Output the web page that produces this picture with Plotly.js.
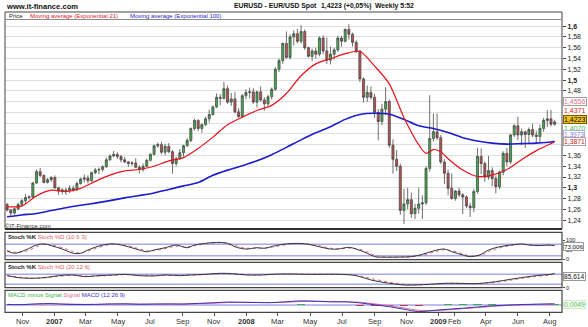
<!DOCTYPE html>
<html><head><meta charset="utf-8">
<script src="https://cdn.plot.ly/plotly-3.0.1.min.js"></script>
<style>html,body{margin:0;padding:0;background:#fff;}#chart{width:588px;height:327px;}</style>
</head><body><div id="chart"></div>
<script>
// ---------- DATA (weekly EUR/USD) ----------
const firstWeek = '2006-10-02';
const opens = [
1.2690,1.2590,1.2530,1.2610,1.2690,1.2760,1.2820,1.2830,1.3090,1.3300,
1.3230,1.3100,1.3150,1.3190,1.3000,1.2940,1.2960,1.2950,1.2990,1.2960,
1.3080,1.3160,1.3180,1.3130,1.3280,1.3330,1.3340,1.3390,1.3520,1.3590,
1.3620,1.3580,1.3520,1.3480,1.3450,1.3460,1.3380,1.3340,1.3400,1.3510,
1.3620,1.3780,1.3800,1.3660,1.3770,1.3670,1.3450,1.3540,1.3650,1.3780,
1.3880,1.4100,1.4250,1.4100,1.4170,1.4280,1.4360,1.4500,1.4680,1.4660,
1.4840,1.4590,1.4650,1.4410,1.4320,1.4710,1.4770,1.4780,1.4590,1.4780,
1.4630,1.4560,1.4690,1.4830,1.5200,1.5360,1.5680,1.5420,1.5800,1.5860,
1.5720,1.5900,1.5600,1.5440,1.5540,1.5480,1.5780,1.5540,1.5370,1.5480,
1.5560,1.5780,1.5720,1.5940,1.5850,1.5700,1.5540,1.5020,1.4680,1.4770,
1.4680,1.4400,1.4230,1.4460,1.4600,1.3790,1.3530,1.3400,1.2580,1.2700,
1.2780,1.2520,1.2620,1.2700,1.2720,1.3360,1.3915,1.4040,1.3930,1.3480,
1.3270,1.2990,1.2800,1.2940,1.2870,1.2830,1.2660,1.2630,1.2930,1.3580,
1.3450,1.3200,1.3320,1.3170,1.3020,1.3290,1.3640,1.3480,1.3980,1.4150,
1.3980,1.4040,1.3990,1.4080,1.3980,1.3950,1.4100,1.4250,1.4280,1.4180];
const highs = [
1.2720,1.2600,1.2630,1.2720,1.2790,1.2880,1.2860,1.3110,1.3340,1.3367,
1.3250,1.3180,1.3220,1.3230,1.3020,1.2990,1.3000,1.3050,1.3040,1.3120,
1.3190,1.3250,1.3230,1.3300,1.3370,1.3380,1.3420,1.3560,1.3620,1.3682,
1.3660,1.3610,1.3570,1.3500,1.3500,1.3550,1.3420,1.3450,1.3540,1.3640,
1.3800,1.3840,1.3852,1.3820,1.3830,1.3700,1.3580,1.3720,1.3800,1.3920,
1.4120,1.4280,1.4270,1.4200,1.4320,1.4450,1.4530,1.4752,1.4740,1.4967,
1.4900,1.4760,1.4780,1.4480,1.4740,1.4830,1.4860,1.4850,1.4800,1.4880,
1.4680,1.4730,1.4860,1.5240,1.5400,1.5700,1.5903,1.5850,1.5920,1.5950,
1.6019,1.5940,1.5620,1.5580,1.5600,1.5810,1.5830,1.5790,1.5620,1.5600,
1.5820,1.5820,1.5960,1.6038,1.5880,1.5740,1.5560,1.5050,1.4900,1.4880,
1.4740,1.4460,1.4560,1.4867,1.4640,1.3900,1.3700,1.3450,1.2980,1.3000,
1.2910,1.2700,1.3000,1.2860,1.3400,1.4719,1.4380,1.4380,1.3980,1.3530,
1.3340,1.3270,1.2960,1.3000,1.2900,1.2860,1.2720,1.2980,1.3738,1.3730,
1.3490,1.3590,1.3380,1.3230,1.3320,1.3680,1.3740,1.4000,1.4180,1.4320,
1.4100,1.4060,1.4120,1.4190,1.4060,1.4170,1.4300,1.4440,1.4445,1.4260];
const lows = [
1.2560,1.2484,1.2500,1.2580,1.2660,1.2700,1.2780,1.2810,1.3070,1.3200,
1.3080,1.3080,1.3110,1.2980,1.2870,1.2880,1.2866,1.2900,1.2930,1.2940,
1.3060,1.3100,1.3080,1.3110,1.3250,1.3250,1.3300,1.3370,1.3500,1.3570,
1.3530,1.3470,1.3460,1.3390,1.3410,1.3370,1.3266,1.3300,1.3380,1.3490,
1.3600,1.3740,1.3620,1.3600,1.3640,1.3260,1.3400,1.3520,1.3580,1.3760,
1.3850,1.4060,1.4050,1.4020,1.4150,1.4210,1.4340,1.4480,1.4530,1.4640,
1.4560,1.4520,1.4380,1.4300,1.4300,1.4640,1.4660,1.4560,1.4490,1.4600,
1.4430,1.4510,1.4640,1.4800,1.5150,1.5300,1.5400,1.5380,1.5640,1.5680,
1.5680,1.5560,1.5420,1.5350,1.5400,1.5440,1.5480,1.5300,1.5290,1.5380,
1.5520,1.5620,1.5700,1.5750,1.5620,1.5500,1.4960,1.4580,1.4590,1.4640,
1.4300,1.3880,1.4160,1.4350,1.3740,1.3260,1.3310,1.2500,1.2330,1.2600,
1.2440,1.2420,1.2520,1.2420,1.2680,1.3300,1.3860,1.3880,1.3440,1.3070,
1.2860,1.2780,1.2760,1.2830,1.2513,1.2620,1.2457,1.2550,1.2890,1.3250,
1.3110,1.3150,1.3030,1.2896,1.2970,1.3230,1.3400,1.3440,1.3940,1.3880,
1.3800,1.3740,1.3820,1.3940,1.3830,1.3850,1.4040,1.4130,1.4140,1.4150];
const closes = [
1.2590,1.2530,1.2610,1.2690,1.2760,1.2820,1.2830,1.3090,1.3300,1.3230,
1.3100,1.3150,1.3190,1.3000,1.2940,1.2960,1.2950,1.2990,1.2960,1.3080,
1.3160,1.3180,1.3130,1.3280,1.3330,1.3340,1.3390,1.3520,1.3590,1.3620,
1.3580,1.3520,1.3480,1.3450,1.3460,1.3380,1.3340,1.3400,1.3510,1.3620,
1.3780,1.3800,1.3660,1.3770,1.3670,1.3450,1.3540,1.3650,1.3780,1.3880,
1.4100,1.4250,1.4100,1.4170,1.4280,1.4360,1.4500,1.4680,1.4660,1.4840,
1.4590,1.4650,1.4410,1.4320,1.4710,1.4770,1.4780,1.4590,1.4780,1.4630,
1.4560,1.4690,1.4830,1.5200,1.5360,1.5680,1.5420,1.5800,1.5860,1.5720,
1.5900,1.5600,1.5440,1.5540,1.5480,1.5780,1.5540,1.5370,1.5480,1.5560,
1.5780,1.5720,1.5940,1.5850,1.5700,1.5540,1.5020,1.4680,1.4770,1.4680,
1.4400,1.4230,1.4460,1.4600,1.3790,1.3530,1.3400,1.2580,1.2700,1.2780,
1.2520,1.2620,1.2700,1.2720,1.3360,1.3915,1.4040,1.3930,1.3480,1.3270,
1.2990,1.2800,1.2940,1.2870,1.2830,1.2660,1.2630,1.2930,1.3580,1.3450,
1.3200,1.3320,1.3170,1.3020,1.3290,1.3640,1.3480,1.3980,1.4150,1.3980,
1.4040,1.3990,1.4080,1.3980,1.3950,1.4100,1.4250,1.4280,1.4180,1.4223];

// Moving averages (week index -> value)
const ema21Idx = [0,4,8,12,16,20,24,28,32,36,40,44,48,52,56,60,64,68,72,76,80,84,88,92,96,100,104,108,112,114,116,118,120,124,128,132,136,140,144,148,149];
const ema21 = [1.2648,1.2660,1.2850,1.2955,1.2930,1.2990,1.3120,1.3235,1.3315,1.3340,1.3400,1.3500,1.3560,1.3730,1.3940,1.4170,1.4310,1.4435,1.4530,1.4750,1.5080,1.5300,1.5395,1.5490,1.5530,1.5260,1.4930,1.4300,1.3800,1.3640,1.3710,1.3670,1.3540,1.3330,1.3210,1.3235,1.3340,1.3520,1.3690,1.3820,1.3850];
const ema100Idx = [0,4,8,12,16,20,24,28,32,36,40,44,48,52,56,60,64,68,72,76,80,84,88,92,96,100,104,108,112,116,120,124,128,132,136,140,144,148,149];
const ema100 = [1.2463,1.2496,1.2524,1.2577,1.2630,1.2675,1.2715,1.2762,1.2813,1.2857,1.2905,1.2970,1.3035,1.3097,1.3232,1.3328,1.3410,1.3500,1.3615,1.3750,1.3890,1.4020,1.4134,1.4270,1.4362,1.4383,1.4365,1.4270,1.4150,1.4100,1.4025,1.3930,1.3870,1.3830,1.3810,1.3820,1.3830,1.3850,1.3865];

// Stochastic (10 6 3)
const stoch1Idx = [0,2,5,8,10,12,15,18,20,22,25,28,30,33,36,38,40,43,46,49,51,54,57,60,62,65,68,70,73,76,79,82,85,88,90,93,95,98,100,103,107,110,113,116,119,121,124,126,129,131,134,137,140,142,145,147,149];
const stoch1K = [45,33,50,76,82,73,55,33,33,50,71,82,80,67,50,41,50,62,76,62,76,85,90,85,67,55,62,59,73,82,85,80,67,55,55,64,55,33,15,12,13,15,27,45,55,41,24,15,27,50,67,76,82,76,73,76,73.006];
const stoch1D = [47,38,43,66,80,77,62,42,34,44,64,79,81,72,56,45,47,57,70,67,72,81,88,87,73,60,60,60,68,78,84,82,72,60,56,60,57,40,22,14,13,14,22,38,51,46,30,19,22,42,61,73,80,78,74,75,74];

// Stochastic (20 12 6)
const stoch2Idx = [0,3,7,11,14,18,21,25,29,32,36,40,43,47,50,54,58,61,65,69,72,76,81,86,90,95,99,104,108,111,115,119,122,126,129,133,137,140,144,148,149];
const stoch2K = [72,60,56,62,72,76,66,72,76,80,72,70,76,72,76,80,86,84,76,76,80,82,80,80,80,72,46,26,16,16,20,26,26,24,26,36,50,60,72,80,85.614];
const stoch2D = [74,64,57,60,68,74,70,70,74,78,75,72,74,73,75,78,84,85,79,76,78,81,81,80,80,75,55,33,20,16,18,23,26,25,25,32,44,56,67,77,82];

// MACD (12 26 9)
const macdIdx = [0,4,8,12,16,20,24,28,32,36,40,44,48,52,56,60,64,68,72,76,80,84,88,92,96,100,104,108,112,116,120,124,128,132,136,140,144,148,149];
const macdLine = [0.004,0.003,0.010,0.012,0.006,0.004,0.005,0.009,0.010,0.006,0.008,0.009,0.008,0.014,0.019,0.025,0.023,0.021,0.020,0.028,0.035,0.032,0.027,0.027,0.018,0.002,-0.014,-0.036,-0.056,-0.046,-0.036,-0.027,-0.017,-0.007,-0.001,0.004,0.007,0.010,0.010];
const macdSignal = [0.005,0.004,0.006,0.009,0.008,0.006,0.005,0.007,0.009,0.008,0.007,0.008,0.008,0.011,0.015,0.021,0.023,0.022,0.021,0.024,0.030,0.032,0.029,0.028,0.023,0.010,-0.006,-0.025,-0.045,-0.048,-0.041,-0.032,-0.022,-0.012,-0.004,0.001,0.005,0.005,0.0051];
const macdHist = [-0.001,-0.001,0.004,0.003,-0.002,-0.002,0.000,0.002,0.001,-0.002,0.001,0.001,0.000,0.003,0.004,0.004,0.000,-0.001,-0.001,0.004,0.005,0.000,-0.002,-0.001,-0.005,-0.008,-0.008,-0.011,-0.011,0.002,0.005,0.005,0.005,0.005,0.003,0.003,0.002,0.005,0.0049];

// Axis labels
const monthTickVals = ['2006-11-01','2007-01-01','2007-03-01','2007-05-01','2007-07-01','2007-09-01','2007-11-01','2008-01-01','2008-03-01','2008-05-01','2008-07-01','2008-09-01','2008-11-01','2009-01-01','2009-02-01','2009-04-01','2009-06-01','2009-08-01'];
const monthTickText = ['Nov','<b>2007</b>','Mar','May','Jul','Sep','Nov','<b>2008</b>','Mar','May','Jul','Sep','Nov','<b>2009</b>','Feb','Apr','Jun','Aug'];
const priceTickVals = [1.24,1.26,1.28,1.30,1.32,1.34,1.36,1.38,1.40,1.42,1.44,1.46,1.48,1.50,1.52,1.54,1.56,1.58,1.60];
const priceTickText = ['1,24','1,26','1,28','<b>1,3</b>','1,32','1,34','1,36','','','','','','1,48','<b>1,5</b>','1,52','1,54','1,56','1,58','<b>1,6</b>'];
const sideLabels = ['1,4556','1,4371','1,4223','1,4070','1,3973','1,3871'];
const panelLabels = ['73,006','85,614','0,0049'];

// ---------- BUILD ----------
const DAY = 86400000;
const t0 = Date.parse(firstWeek + 'T00:00:00Z');
const weeks = opens.map((_, i) => new Date(t0 + i * 7 * DAY).toISOString().slice(0, 10));
const at = idx => idx.map(i => weeks[i]);

const H = 327, FONT = 'Arial, "Liberation Sans", sans-serif';
const fy = p => 1 - p / H;              // pixel row -> paper y
const fx = p => (p - 5) / 557;           // pixel col -> paper x

const traces = [
  {type:'candlestick', x:weeks, open:opens, high:highs, low:lows, close:closes,
   xaxis:'x', yaxis:'y', whiskerwidth:0, hoverinfo:'skip',
   increasing:{line:{color:'#4a4a4a', width:0.8}, fillcolor:'#3fae49'},
   decreasing:{line:{color:'#4a4a4a', width:0.8}, fillcolor:'#c0504d'}},
  {type:'scatter', mode:'lines', x:at(ema100Idx), y:ema100, xaxis:'x', yaxis:'y',
   line:{color:'#1c1ccc', width:1.6, shape:'spline', smoothing:0.8}, hoverinfo:'skip'},
  {type:'scatter', mode:'lines', x:at(ema21Idx), y:ema21, xaxis:'x', yaxis:'y',
   line:{color:'#e8141c', width:1.2, shape:'spline', smoothing:0.8}, hoverinfo:'skip'},
  {type:'scatter', mode:'lines', x:at(stoch1Idx), y:stoch1D, xaxis:'x', yaxis:'y2',
   line:{color:'#e07070', width:1, dash:'dot', shape:'spline'}, hoverinfo:'skip'},
  {type:'scatter', mode:'lines', x:at(stoch1Idx), y:stoch1K, xaxis:'x', yaxis:'y2',
   line:{color:'#333344', width:1, shape:'spline'}, hoverinfo:'skip'},
  {type:'scatter', mode:'lines', x:at(stoch2Idx), y:stoch2D, xaxis:'x', yaxis:'y3',
   line:{color:'#e07070', width:1, dash:'dot', shape:'spline'}, hoverinfo:'skip'},
  {type:'scatter', mode:'lines', x:at(stoch2Idx), y:stoch2K, xaxis:'x', yaxis:'y3',
   line:{color:'#333344', width:1, shape:'spline'}, hoverinfo:'skip'},
  {type:'bar', x:at(macdIdx), y:macdHist, xaxis:'x', yaxis:'y4', width:2.2*7*DAY,
   marker:{color:macdHist.map(v => v >= 0 ? '#3db04a' : '#c03c3c')}, hoverinfo:'skip'},
  {type:'scatter', mode:'lines', x:at(macdIdx), y:macdSignal, xaxis:'x', yaxis:'y4',
   line:{color:'#e0709a', width:1, shape:'spline'}, hoverinfo:'skip'},
  {type:'scatter', mode:'lines', x:at(macdIdx), y:macdLine, xaxis:'x', yaxis:'y4',
   line:{color:'#3a30b8', width:1, shape:'spline'}, hoverinfo:'skip'}
];

const frame = '#454545', level = '#a8a8ee';
const shapes = [
  {type:'line', xref:'paper', yref:'y2', x0:0, x1:1, y0:80, y1:80, line:{color:level, width:1.5}, layer:'below'},
  {type:'line', xref:'paper', yref:'y2', x0:0, x1:1, y0:20, y1:20, line:{color:level, width:1.5}, layer:'below'},
  {type:'line', xref:'paper', yref:'y3', x0:0, x1:1, y0:80, y1:80, line:{color:level, width:1.5}, layer:'below'},
  {type:'line', xref:'paper', yref:'y3', x0:0, x1:1, y0:20, y1:20, line:{color:level, width:1.5}, layer:'below'},
  {type:'line', xref:'paper', yref:'y4', x0:0, x1:1, y0:0, y1:0, line:{color:level, width:1.5}, layer:'below'},
  {type:'rect', xref:'paper', yref:'paper', x0:0, x1:1, y0:fy(229), y1:fy(12), line:{color:frame, width:1}},
  {type:'line', xref:'paper', yref:'paper', x0:0, x1:1, y0:fy(19.5), y1:fy(19.5), line:{color:'#8a8a8a', width:1}},
  {type:'line', xref:'paper', yref:'paper', x0:0, x1:1, y0:fy(229), y1:fy(229), line:{color:'#303030', width:2}},
  {type:'rect', xref:'paper', yref:'paper', x0:0, x1:1, y0:fy(259.7), y1:fy(232.3), line:{color:frame, width:1.2}},
  {type:'rect', xref:'paper', yref:'paper', x0:0, x1:1, y0:fy(287.7), y1:fy(262.3), line:{color:frame, width:1.2}},
  {type:'rect', xref:'paper', yref:'paper', x0:0, x1:1, y0:fy(312.3), y1:fy(290.3), line:{color:frame, width:1.2}}
];

const A = (text, px, py, size, color, extra) => Object.assign({
  text, xref:'paper', yref:'paper', x:fx(px), y:fy(py), xanchor:'left', yanchor:'middle',
  showarrow:false, font:{family:FONT, size, color}}, extra || {});

const sideColors = ['#e0708a','#e02424','#000000','#3cbc3c','#7f7fd0','#d42020'];
const sideBg = ['#ffffff','#ffffff','#f2c318','#ffffff','#ffffff','#ffffff'];
const sideBorder = ['#a0a0a0','#ffffff','#7a5a00','#ffffff','#b0b0d8','#b0a0a0'];
const sideRows = [101, 110.3, 119.6, 128.6, 134.8, 141.4];
const sideSize = [7, 7, 7, 7, 6.5, 6.8];

const annotations = [
  A('<b>www.it-finance.com</b>', 4, 6, 7.6, '#111'),
  A('<b>EURUSD - EUR/USD Spot</b>', 232, 6, 6.8, '#111'),
  A('<b>1,4223 (+0,05%)</b>', 319, 6, 6.8, '#111'),
  A('<b>Weekly 5:52</b>', 373, 6, 6.8, '#111'),
  A('Price', 7, 15.6, 6, '#222'),
  A('Moving average (Exponential 21)', 28, 15.6, 6, '#e8141c'),
  A('Moving average (Exponential 100)', 128, 15.6, 6, '#1c1ccc'),
  A('\u00a9IT-Finance.com', 3, 226.3, 6, '#333'),
  A('<b>Stoch %K</b> <span style="color:#e06060">Stoch %D (10 6 3)</span>', 6, 236.8, 6, '#222'),
  A('<b>Stoch %K</b> <span style="color:#e06060">Stoch %D (20 12 6)</span>', 6, 266.8, 6, '#222'),
  A('MACD minus Signal <span style="color:#e0709a">Signal</span> <span style="color:#3a30b8">MACD (12 26 9)</span>', 6, 294.8, 6, '#3db04a')
];
// month labels under the bottom panel
monthTickVals.forEach((d, k) => annotations.push({text:monthTickText[k], xref:'x', yref:'paper', x:d, y:fy(321),
  xanchor:'center', yanchor:'middle', showarrow:false, font:{family:FONT, size:7.5, color:'#333'}}));
sideLabels.forEach((t, k) => annotations.push(A(t, 563, sideRows[k], sideSize[k], sideColors[k],
  {bgcolor:sideBg[k], bordercolor:sideBorder[k], borderwidth:1, borderpad:0})));
annotations.push(A(panelLabels[0], 563, 246.2, 6.2, '#111', {bgcolor:'#fff', bordercolor:'#999', borderwidth:1, borderpad:0}));
annotations.push(A(panelLabels[1], 563, 276.5, 6.6, '#111', {bgcolor:'#fff', bordercolor:'#999', borderwidth:1, borderpad:0}));
annotations.push(A(panelLabels[2], 563, 304.3, 6.8, '#3cbc3c', {bgcolor:'#fff', bordercolor:'#cfe8cf', borderwidth:1, borderpad:0}));

const baseY = {side:'right', anchor:'x', zeroline:false, showgrid:false, fixedrange:true,
  ticks:'outside', ticklen:2, tickcolor:'#444', tickfont:{family:FONT, size:5.6, color:'#222'}};

const layout = {
  width:588, height:327, margin:{l:5, r:26, t:0, b:0},
  paper_bgcolor:'#ffffff', plot_bgcolor:'#ffffff', showlegend:false,
  boxgap:0.2, bargap:0,
  font:{family:FONT},
  xaxis:{type:'date', range:['2006-09-28','2009-08-24'], anchor:'y4', rangeslider:{visible:false},
    showgrid:false, zeroline:false, showline:false, fixedrange:true,
    tickmode:'array', tickvals:monthTickVals, showticklabels:false,
    ticks:'outside', ticklen:3, tickcolor:'#555'},
  yaxis:Object.assign({}, baseY, {domain:[fy(229), fy(19.5)], range:[1.2235, 1.6124],
    tickmode:'array', tickvals:priceTickVals, ticktext:priceTickText,
    showgrid:true, gridcolor:'#dedede', gridwidth:1, ticklen:3, tickfont:{family:FONT, size:7, color:'#222'}}),
  yaxis2:Object.assign({}, baseY, {domain:[fy(259.7), fy(232.3)], range:[-1.05, 143.2],
    tickmode:'array', tickvals:[0,50,100], ticktext:['0','50','100']}),
  yaxis3:Object.assign({}, baseY, {domain:[fy(287.7), fy(262.3)], range:[-0.4, 152],
    tickmode:'array', tickvals:[0], ticktext:['0']}),
  yaxis4:Object.assign({}, baseY, {domain:[fy(312.3), fy(290.3)], range:[-0.062, 0.125],
    showticklabels:false, ticks:''}),
  shapes, annotations
};

Plotly.newPlot('chart', traces, layout, {staticPlot:true, displayModeBar:false});
</script></body></html>
